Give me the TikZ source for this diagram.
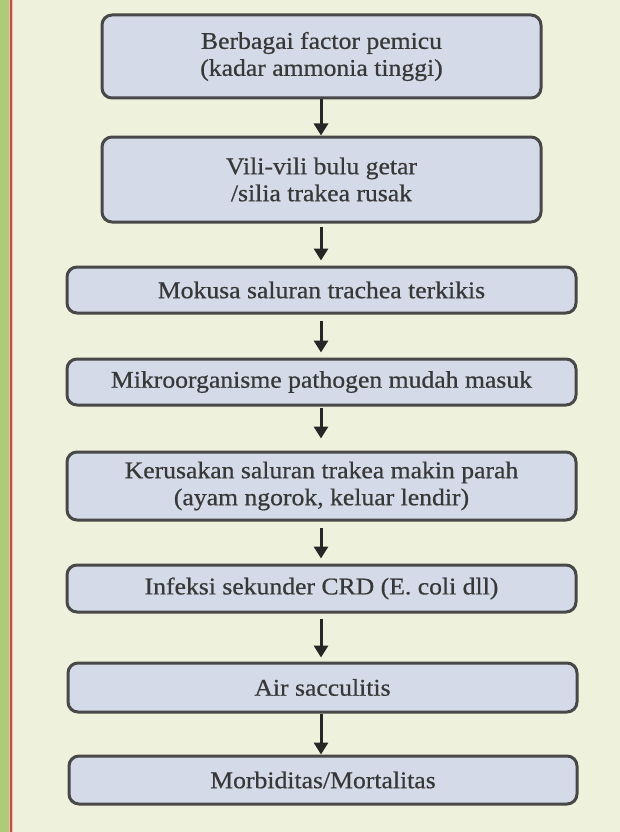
\documentclass[tikz,border=0pt]{standalone}
\usepackage{fontspec}
\setmainfont{Liberation Serif}
\newfontfamily\boxfont[FakeStretch=1.07,FakeBold=0.6]{Liberation Serif}
\usetikzlibrary{arrows.meta}
\definecolor{bgcream}{HTML}{EEF2DC}
\definecolor{boxfill}{HTML}{D5DAE8}
\definecolor{boxline}{HTML}{484848}
\definecolor{greenbar}{HTML}{AECB7A}
\definecolor{redline}{HTML}{C0504D}
\definecolor{pinkline}{HTML}{F2B8A8}
\tikzset{
  flowbox/.style={draw=boxline, line width=3pt, fill=boxfill, rounded corners=10pt,
    align=center, inner sep=0pt, font=\boxfont\fontsize{24}{27}\selectfont, text=black!78},
  flowarrow/.style={draw=black!85, line width=3pt,
    -{Triangle[width=14pt,length=12pt]}}
}
\begin{document}
\begin{tikzpicture}[x=1pt,y=-1pt]
\useasboundingbox (0,0) rectangle (620,832);
\fill[bgcream] (0,0) rectangle (620,832);
\fill[greenbar] (0,0) rectangle (8.5,832);
\fill[pinkline] (8.5,0) rectangle (13,832);
\fill[redline] (9.5,0) rectangle (12,832);

\node[flowbox, minimum width=439pt, minimum height=83pt] (b1) at (321.5,56.5)
  {Berbagai factor pemicu\\(kadar ammonia tinggi)};
\node[flowbox, minimum width=439pt, minimum height=85pt] (b2) at (321.5,179.5)
  {Vili-vili bulu getar\\/silia trakea rusak};
\node[flowbox, minimum width=509pt, minimum height=46pt] (b3) at (321.5,290)
  {Mokusa saluran trachea terkikis};
\node[flowbox, minimum width=509pt, minimum height=46pt] (b4) at (321.5,382)
  {Mikroorganisme pathogen mudah masuk};
\node[flowbox, minimum width=509pt, minimum height=68pt] (b5) at (321.5,486)
  {Kerusakan saluran trakea makin parah\\(ayam ngorok, keluar lendir)};
\node[flowbox, minimum width=509pt, minimum height=47pt] (b6) at (321.5,588.5)
  {Infeksi sekunder CRD (E. coli dll)};
\node[flowbox, minimum width=509pt, minimum height=49pt] (b7) at (322.5,687.5)
  {Air sacculitis};
\node[flowbox, minimum width=508pt, minimum height=48pt] (b8) at (323,780)
  {Morbiditas/Mortalitas};

\draw[flowarrow] (b1.south -| 321,0) -- (b2.north -| 321,0);
\draw[flowarrow, shorten <=3pt, shorten >=5pt] (b2.south -| 321,0) -- (b3.north -| 321,0);
\draw[flowarrow, shorten <=6pt, shorten >=5pt] (b3.south -| 321,0) -- (b4.north -| 321,0);
\draw[flowarrow, shorten <=1pt, shorten >=12pt] (b4.south -| 321,0) -- (b5.north -| 321,0);
\draw[flowarrow, shorten <=6pt, shorten >=5pt] (b5.south -| 321,0) -- (b6.north -| 321,0);
\draw[flowarrow, shorten <=5pt, shorten >=4pt] (b6.south -| 321,0) -- (b7.north -| 321,0);
\draw[flowarrow] (b7.south -| 321,0) -- (b8.north -| 321,0);
\end{tikzpicture}
\end{document}
